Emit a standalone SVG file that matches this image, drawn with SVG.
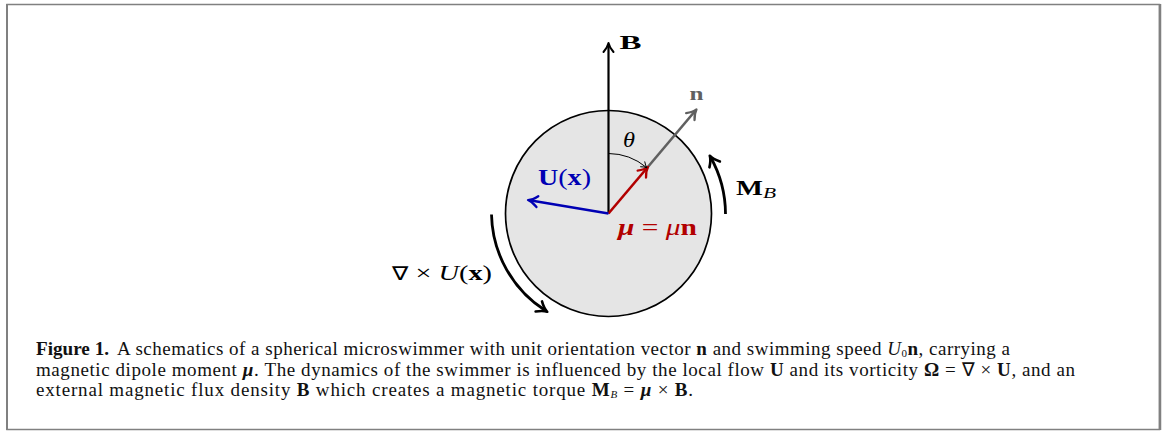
<svg xmlns="http://www.w3.org/2000/svg" width="1165" height="432" viewBox="0 0 1165 432">
<style>
.cap{font-family:"Liberation Serif","Times New Roman",serif;font-size:19px;fill:#111}
.math{font-family:"Liberation Serif","Times New Roman",serif}
.b{font-weight:bold}
.i{font-style:italic}
</style>
<defs>
<marker id="ah-black" markerUnits="userSpaceOnUse" markerWidth="20" markerHeight="20" refX="0" refY="0" orient="auto" overflow="visible"><path d="M-7.5,-5 Q-3,-1 1.5,0 Q-3,1 -7.5,5" fill="none" stroke="#000" stroke-width="2" stroke-linecap="round" stroke-linejoin="round"/></marker>
<marker id="ah-thin" markerUnits="userSpaceOnUse" markerWidth="20" markerHeight="20" refX="0" refY="0" orient="auto" overflow="visible"><path d="M-5,-3.3 Q-1.8,-0.6 0.5,0 Q-1.8,0.6 -5,3.3" fill="none" stroke="#000" stroke-width="1" stroke-linecap="round" stroke-linejoin="round"/></marker>
<marker id="ah-gray" markerUnits="userSpaceOnUse" markerWidth="20" markerHeight="20" refX="0" refY="0" orient="auto" overflow="visible"><path d="M-8,-5.5 Q-3,-1 1.5,0 Q-3,1 -8,5.5" fill="none" stroke="#606060" stroke-width="2.3" stroke-linecap="round" stroke-linejoin="round"/></marker>
<marker id="ah-red" markerUnits="userSpaceOnUse" markerWidth="20" markerHeight="20" refX="0" refY="0" orient="auto" overflow="visible"><path d="M-8,-5.5 Q-3,-1 1.5,0 Q-3,1 -8,5.5" fill="none" stroke="#b20000" stroke-width="2.3" stroke-linecap="round" stroke-linejoin="round"/></marker>
<marker id="ah-blue" markerUnits="userSpaceOnUse" markerWidth="20" markerHeight="20" refX="0" refY="0" orient="auto" overflow="visible"><path d="M-8,-5.5 Q-3,-1 1.5,0 Q-3,1 -8,5.5" fill="none" stroke="#0000b4" stroke-width="2.3" stroke-linecap="round" stroke-linejoin="round"/></marker>
<marker id="ah-curl" markerUnits="userSpaceOnUse" markerWidth="20" markerHeight="20" refX="0" refY="0" orient="auto" overflow="visible"><path d="M-8.5,-6 Q-3,-1 1.5,0 Q-3,1 -8.5,6" fill="none" stroke="#000" stroke-width="2.6" stroke-linecap="round" stroke-linejoin="round"/></marker>
</defs>

<g id="frame">
<rect x="7" y="4.5" width="1152.5" height="425" fill="#fff" stroke="#808080" stroke-width="1.5"/>
<line x1="7" y1="4" x2="7" y2="430" stroke="#808080" stroke-width="2"/>
<line x1="1160" y1="4" x2="1160" y2="430" stroke="#808080" stroke-width="2.5"/>
</g>

<g id="swimmer">
<circle cx="608.5" cy="213.5" r="103" fill="#e5e5e5" stroke="#000" stroke-width="1.7"/>
</g>

<g id="connectors" fill="none" stroke-linecap="butt">
<line id="vec-B" x1="608.5" y1="213.5" x2="608.5" y2="44.5" stroke="#000" stroke-width="2.2" marker-end="url(#ah-black)"/>
<line id="vec-n" x1="647" y1="168" x2="695.5" y2="110.5" stroke="#606060" stroke-width="2.6" marker-end="url(#ah-gray)"/>
<line id="vec-mu" x1="608.5" y1="213.5" x2="647" y2="168" stroke="#b20000" stroke-width="2.6" marker-end="url(#ah-red)"/>
<line id="vec-U" x1="608.5" y1="213.5" x2="529.5" y2="200.3" stroke="#0000b4" stroke-width="2.6" marker-end="url(#ah-blue)"/>
<path id="arc-theta" d="M608.5,153.5 A60,60 0 0 1 646.5,167.5" stroke="#000" stroke-width="1" marker-end="url(#ah-thin)"/>
<path id="arc-MB" d="M725.5,214 A117,117 0 0 0 710.5,157" stroke="#000" stroke-width="2.8" marker-end="url(#ah-curl)"/>
<path id="arc-curl" d="M491.5,214.5 A117,117 0 0 0 546,311" stroke="#000" stroke-width="2.8" marker-end="url(#ah-curl)"/>
</g>

<g id="labels" class="math">
<text id="lbl-B" x="619.5" y="48.5" font-size="19" class="b" fill="#000" textLength="22" lengthAdjust="spacingAndGlyphs">B</text>
<text id="lbl-n" x="689.5" y="100" font-size="19" class="b" fill="#606060" textLength="14" lengthAdjust="spacingAndGlyphs">n</text>
<text id="lbl-theta" x="623" y="147" font-size="21" class="i" fill="#000" textLength="12" lengthAdjust="spacingAndGlyphs">θ</text>
<text id="lbl-U" x="538" y="184.5" font-size="23" fill="#0000b4" textLength="53" lengthAdjust="spacingAndGlyphs"><tspan class="b">U</tspan>(<tspan class="b">x</tspan>)</text>
<text id="lbl-mu" x="618" y="234.5" font-size="23" fill="#b20000" textLength="79" lengthAdjust="spacingAndGlyphs"><tspan class="b i">μ</tspan> = <tspan class="i">μ</tspan><tspan class="b">n</tspan></text>
<text id="lbl-MB" x="736" y="195" font-size="20" fill="#000" textLength="40" lengthAdjust="spacingAndGlyphs"><tspan class="b">M</tspan><tspan class="i" font-size="15" dy="3">B</tspan></text>
<text id="lbl-curl" x="392" y="280" font-size="22" fill="#000" textLength="100" lengthAdjust="spacingAndGlyphs"><tspan font-family="DejaVu Sans" font-weight="normal" font-size="19">∇</tspan> × <tspan class="i">U</tspan>(<tspan class="b">x</tspan>)</text>
</g>

<g id="caption" class="cap">
<text x="36" y="355" class="b" textLength="73" lengthAdjust="spacingAndGlyphs">Figure 1.</text>
<text x="117" y="355" textLength="893" lengthAdjust="spacing">A schematics of a spherical microswimmer with unit orientation vector <tspan class="b">n</tspan> and swimming speed <tspan class="i">U</tspan><tspan font-size="11" dy="2">0</tspan><tspan class="b" dy="-2">n</tspan>, carrying a</text>
<text x="36" y="375.5" textLength="1039" lengthAdjust="spacing">magnetic dipole moment <tspan class="b i">μ</tspan>. The dynamics of the swimmer is influenced by the local flow <tspan class="b">U</tspan> and its vorticity <tspan class="b">Ω</tspan> = ∇ × <tspan class="b">U</tspan>, and an</text>
<text x="36" y="396" textLength="657" lengthAdjust="spacing">external magnetic flux density <tspan class="b">B</tspan> which creates a magnetic torque <tspan class="b">M</tspan><tspan class="i" font-size="11" dy="2">B</tspan><tspan dy="-2"> = </tspan><tspan class="b i">μ</tspan> × <tspan class="b">B</tspan>.</text>
</g>
</svg>
